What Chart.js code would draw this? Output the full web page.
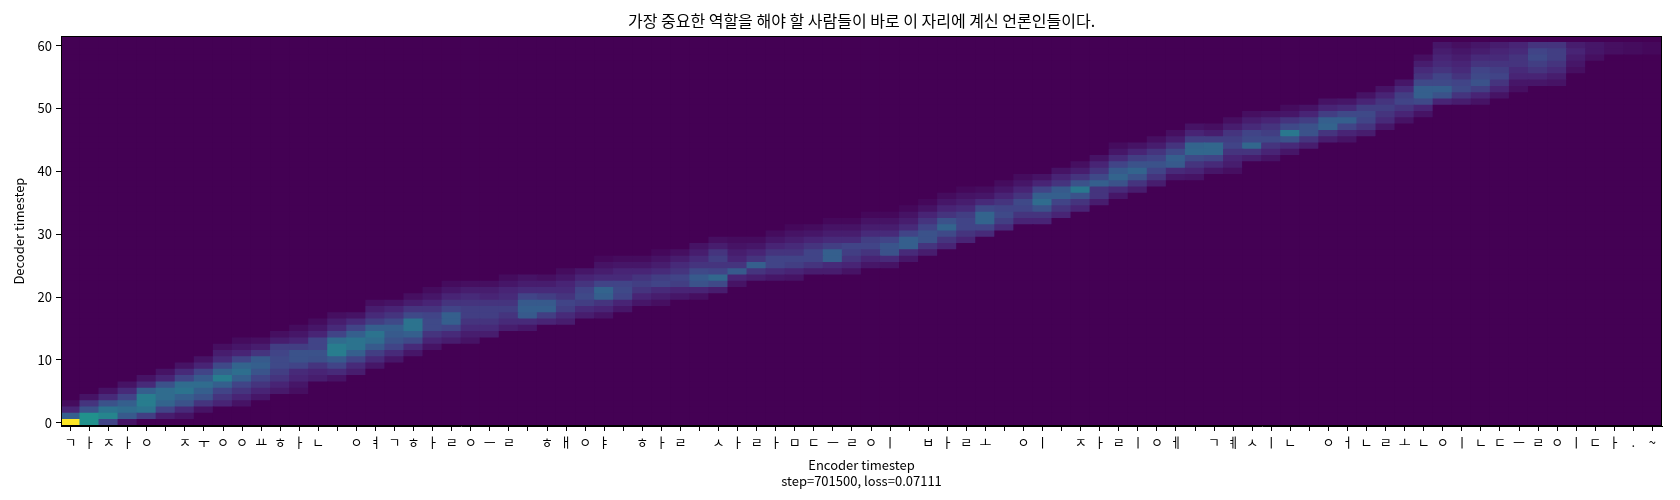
<!DOCTYPE html>
<html>
<head>
<meta charset="utf-8">
<script src="https://cdn.jsdelivr.net/npm/chart.js@4/dist/chart.umd.min.js"></script>
<style>
  html, body { margin: 0; padding: 0; background: #fff; }
  #wrap { width: 1680px; height: 500px; }
</style>
</head>
<body>
<div id="wrap"><canvas id="myChart"></canvas></div>
<script>
// alignment plot
const titleText = "가장 중요한 역할을 해야 할 사람들이 바로 이 자리에 계신 언론인들이다.";
const xTitle = ["Encoder timestep", "step=701500, loss=0.07111"];
const yTitle = "Decoder timestep";
const decoderSteps = 62;
const yTicks = [0, 10, 20, 30, 40, 50, 60];

const encoderLabels = ["ㄱ","ㅏ","ㅈ","ㅏ","ㅇ"," ","ㅈ","ㅜ","ㅇ","ㅇ","ㅛ","ㅎ","ㅏ","ㄴ"," ",
  "ㅇ","ㅕ","ㄱ","ㅎ","ㅏ","ㄹ","ㅇ","ㅡ","ㄹ"," ","ㅎ","ㅐ","ㅇ","ㅑ"," ","ㅎ","ㅏ","ㄹ"," ",
  "ㅅ","ㅏ","ㄹ","ㅏ","ㅁ","ㄷ","ㅡ","ㄹ","ㅇ","ㅣ"," ","ㅂ","ㅏ","ㄹ","ㅗ"," ","ㅇ","ㅣ"," ",
  "ㅈ","ㅏ","ㄹ","ㅣ","ㅇ","ㅔ"," ","ㄱ","ㅖ","ㅅ","ㅣ","ㄴ"," ","ㅇ","ㅓ","ㄴ","ㄹ","ㅗ","ㄴ",
  "ㅇ","ㅣ","ㄴ","ㄷ","ㅡ","ㄹ","ㅇ","ㅣ","ㄷ","ㅏ",".","~"];

// first decoder step with attention, per encoder step
const colStart = [0,0,0,0,1,1,1,2,3,3, 4,5,5,7,7,8,9,10,11,12,
  13,13,14,15,15,16,16,17,17,18, 19,19,20,20,21,22,23,23,23,24,
  24,24,25,25,26,27,28,29,30,31, 32,32,33,34,35,36,37,38,39,39,
  40,40,42,42,43,44,45,45,46,47, 48,49,51,51,51,52,53,54,54,56,
  58,59,59,59];

// attention weights (0..1) going up from colStart
const colValues = [
  [1.0,.3,.1,.03],
  [.5,.5,.25,.15,.05],
  [.2,.45,.38,.25,.12,.05],
  [.05,.28,.35,.3,.2,.12,.05],
  [.18,.38,.42,.42,.3,.12,.05],
  [.08,.2,.32,.35,.35,.25,.1,.05],
  [.05,.12,.25,.3,.38,.35,.2,.12,.05],
  [.05,.15,.25,.3,.35,.28,.2,.1,.05],
  [.1,.15,.2,.3,.42,.32,.22,.12,.08,.04],
  [.05,.1,.15,.2,.3,.36,.32,.2,.1,.06,.03],
  [.06,.1,.15,.2,.26,.3,.28,.15,.08,.04],
  [.07,.1,.15,.18,.22,.22,.2,.18,.08,.04],
  [.04,.06,.1,.12,.2,.25,.25,.18,.1,.06,.03],
  [.08,.1,.15,.24,.25,.2,.2,.1,.06,.03],
  [.05,.12,.2,.28,.42,.42,.35,.2,.12,.08,.04],
  [.08,.12,.2,.3,.38,.38,.3,.2,.12,.05],
  [.06,.12,.18,.28,.35,.38,.3,.18,.12,.08,.04],
  [.06,.12,.2,.25,.28,.3,.22,.15,.1,.05],
  [.06,.12,.22,.3,.38,.38,.22,.15,.08,.04],
  [.05,.1,.15,.22,.22,.2,.15,.1,.06,.03],
  [.08,.12,.2,.3,.3,.2,.15,.1,.06,.03],
  [.05,.08,.12,.15,.18,.18,.15,.12,.08,.04],
  [.08,.12,.15,.18,.18,.15,.1,.08,.04],
  [.08,.12,.15,.18,.15,.12,.1,.06,.03],
  [.06,.12,.28,.3,.28,.2,.12,.08,.05],
  [.1,.18,.3,.28,.18,.12,.08,.04],
  [.08,.12,.18,.2,.15,.12,.1,.06,.03],
  [.08,.12,.18,.22,.2,.15,.1,.06],
  [.05,.1,.15,.3,.32,.2,.12,.08,.05,.02],
  [.06,.1,.2,.22,.2,.12,.1,.06,.03],
  [.06,.1,.15,.18,.15,.1,.06,.03],
  [.04,.08,.12,.2,.18,.12,.08,.05,.02],
  [.06,.1,.18,.2,.15,.12,.08,.04],
  [.04,.1,.25,.28,.22,.15,.12,.08,.05],
  [.08,.22,.33,.2,.15,.18,.15,.08,.04],
  [.05,.1,.28,.15,.1,.08,.05,.03],
  [.08,.15,.3,.15,.1,.06,.03],
  [.06,.12,.2,.2,.15,.1,.06,.03],
  [.05,.1,.18,.2,.15,.12,.08,.05,.02],
  [.08,.15,.2,.2,.15,.1,.06,.03],
  [.08,.12,.3,.3,.18,.12,.08,.05,.02],
  [.05,.1,.15,.18,.2,.12,.08,.05,.02],
  [.06,.1,.15,.2,.18,.12,.08,.05,.02],
  [.05,.12,.25,.26,.2,.12,.08,.05,.02],
  [.06,.12,.3,.3,.2,.12,.08,.05,.02],
  [.08,.15,.25,.25,.2,.15,.1,.05,.02],
  [.1,.15,.22,.32,.25,.15,.1,.06,.03],
  [.1,.15,.2,.2,.18,.12,.08,.05,.02],
  [.12,.2,.32,.32,.22,.12,.06,.03],
  [.12,.18,.22,.2,.15,.1,.06,.03],
  [.1,.15,.2,.22,.15,.1,.06,.03],
  [.1,.15,.25,.35,.3,.2,.1,.05],
  [.1,.15,.2,.3,.28,.15,.1,.05],
  [.1,.15,.25,.4,.25,.15,.08,.04],
  [.08,.15,.15,.3,.22,.15,.1,.05],
  [.06,.12,.25,.32,.28,.2,.12,.06,.03],
  [.08,.15,.25,.32,.25,.18,.1,.05],
  [.08,.15,.2,.25,.2,.15,.08,.04],
  [.06,.12,.28,.3,.22,.15,.08,.04],
  [.05,.1,.15,.22,.33,.32,.18,.1,.05],
  [.06,.12,.2,.33,.33,.18,.08,.04],
  [.04,.08,.1,.15,.2,.18,.15,.08,.04],
  [.08,.15,.33,.22,.2,.12,.08,.04],
  [.05,.1,.15,.22,.18,.15,.1,.05],
  [.06,.12,.25,.4,.22,.15,.06,.03],
  [.08,.15,.25,.25,.18,.1,.05],
  [.08,.15,.32,.3,.18,.1,.05],
  [.05,.1,.2,.3,.22,.12,.06],
  [.08,.15,.2,.22,.18,.1,.05],
  [.06,.12,.15,.18,.15,.1,.05],
  [.05,.1,.15,.2,.18,.12,.06],
  [.05,.1,.22,.3,.3,.22,.15,.12,.08,.04],
  [.1,.25,.3,.22,.2,.15,.12,.1,.08,.06],
  [.08,.15,.22,.2,.15,.12,.1,.08,.06,.04],
  [.05,.1,.18,.25,.22,.2,.15,.12,.08,.06],
  [.05,.1,.15,.2,.18,.15,.12,.1,.08],
  [.04,.06,.1,.12,.15,.15,.12,.1],
  [.06,.1,.15,.18,.22,.2,.15],
  [.05,.08,.12,.15,.18,.18,.15],
  [.04,.06,.08,.1,.08],
  [.04,.06,.06],
  [.04,.04],
  [.03,.03],
  [.02,.02]
];

// viridis colormap stops
const viridis = ["#440154","#482475","#414487","#355f8d","#2a788e","#21918c",
  "#22a884","#44bf70","#7ad151","#bddf26","#fde725"];

function hexRgb(h) {
  return [1, 3, 5].map((i) => parseInt(h.substr(i, 2), 16));
}
function colorFor(v) {
  v = Math.max(0, Math.min(1, v));
  const p = v * (viridis.length - 1);
  const i = Math.min(Math.floor(p), viridis.length - 2);
  const t = p - i;
  const a = hexRgb(viridis[i]), b = hexRgb(viridis[i + 1]);
  const c = a.map((x, k) => Math.round(x + (b[k] - x) * t));
  return "rgb(" + c.join(",") + ")";
}
function cellValue(c, r) {
  const k = r - colStart[c];
  const vals = colValues[c];
  return k >= 0 && k < vals.length ? vals[k] : 0;
}

const font = "'Noto Sans CJK KR', 'Noto Sans', sans-serif";

const datasets = [];
for (let r = 0; r < decoderSteps; r++) {
  datasets.push({
    label: "step " + r,
    data: encoderLabels.map(() => [r - 0.5, r + 0.5]),
    backgroundColor: encoderLabels.map((_, c) => colorFor(cellValue(c, r))),
    borderWidth: 0,
    inflateAmount: 0.6,
  });
}

const frame = {
  id: "frame",
  beforeDraw(chart) {
    const { ctx, width, height, chartArea: a } = chart;
    ctx.save();
    ctx.fillStyle = "#fff";
    ctx.fillRect(0, 0, width, height);
    ctx.fillStyle = viridis[0];
    ctx.fillRect(a.left, a.top, a.width, a.height);
    ctx.restore();
  },
  afterDraw(chart) {
    const { ctx, chartArea: a } = chart;
    ctx.save();
    ctx.strokeStyle = "#000";
    ctx.lineWidth = 1;
    ctx.strokeRect(Math.round(a.left) + 0.5, Math.round(a.top) + 0.5,
      Math.round(a.width) - 1, Math.round(a.height) - 1);
    ctx.restore();
  },
};

const ctx = document.getElementById("myChart").getContext("2d");
new Chart(ctx, {
  type: "bar",
  data: { labels: encoderLabels, datasets: datasets },
  plugins: [frame],
  options: {
    responsive: true,
    maintainAspectRatio: false,
    animation: false,
    events: [],
    layout: { padding: { left: 0, right: 18, top: 0, bottom: 0 } },
    datasets: { bar: { grouped: false, barPercentage: 1, categoryPercentage: 1 } },
    plugins: {
      legend: { display: false },
      tooltip: { enabled: false },
      title: {
        display: true,
        fullSize: false,
        text: titleText,
        color: "#000",
        font: { family: font, size: 16, weight: "normal", lineHeight: 1.2 },
        padding: { top: 11, bottom: 6 },
      },
    },
    scales: {
      x: {
        type: "category",
        offset: true,
        grid: { offset: false, drawOnChartArea: false, drawTicks: true, tickLength: 5, color: "#000" },
        border: { display: true, color: "#000" },
        ticks: { autoSkip: false, maxRotation: 0, minRotation: 0, color: "#000", padding: 3,
          font: { family: font, size: 13 } },
        title: { display: true, text: xTitle, color: "#000",
          font: { family: font, size: 13, lineHeight: "16px" }, padding: { top: 0, bottom: 11 } },
        afterFit: (s) => { s.height = 74; },
      },
      y: {
        type: "linear",
        min: -0.5,
        max: decoderSteps - 0.5,
        afterBuildTicks: (s) => { s.ticks = yTicks.map((v) => ({ value: v })); },
        grid: { drawOnChartArea: false, drawTicks: true, tickLength: 5, color: "#000" },
        border: { display: true, color: "#000" },
        ticks: { color: "#000", padding: 4, font: { family: font, size: 13 } },
        title: { display: true, text: yTitle, color: "#000",
          font: { family: font, size: 13, lineHeight: "16px" }, padding: { top: 11, bottom: 0 } },
        afterFit: (s) => { s.width = 61; },
      },
    },
  },
});
</script>
</body>
</html>
